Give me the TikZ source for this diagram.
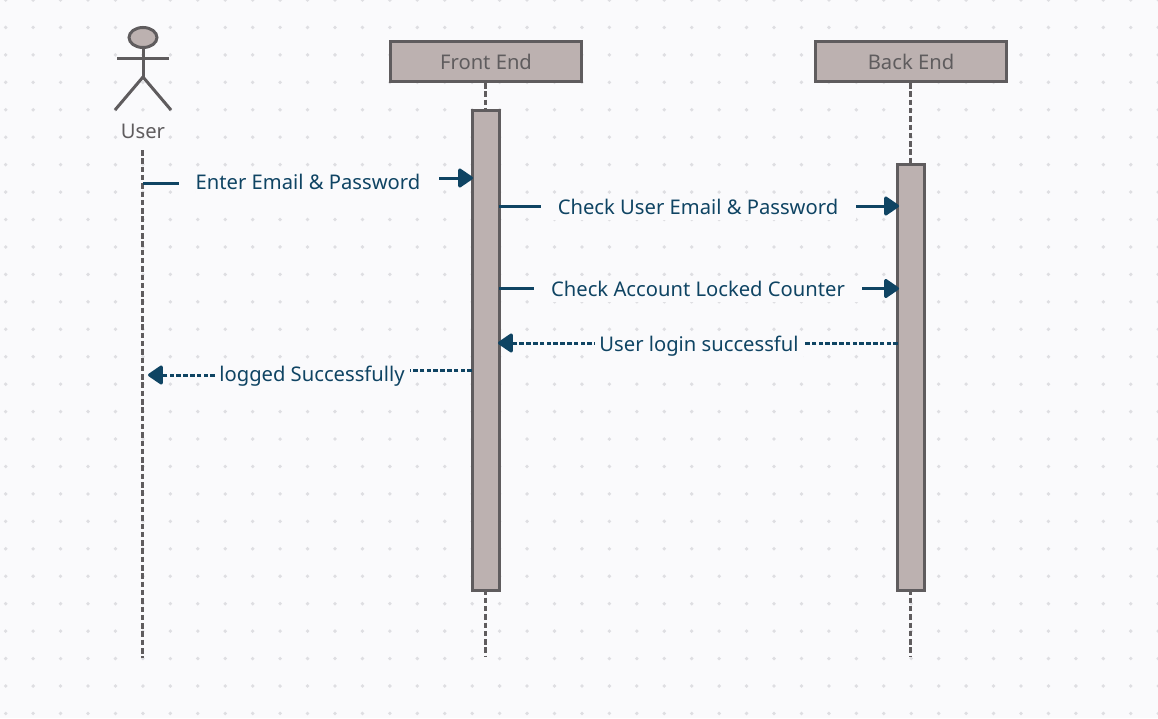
\documentclass[tikz,border=0pt]{standalone}
\usepackage{fontspec}
\setmainfont{Noto Sans}
\usetikzlibrary{arrows.meta,shapes.geometric}
\definecolor{bg}{HTML}{FAFAFC}
\definecolor{dotc}{HTML}{DEDEE2}
\definecolor{boxfill}{HTML}{BCB1B0}
\definecolor{boxline}{HTML}{5F5C5E}
\definecolor{boxtext}{HTML}{5F5C5E}
\definecolor{msg}{HTML}{0F4463}
\tikzset{
  x=1pt,y=-1pt,
  headbox/.style={draw=boxline,fill=boxfill,line width=3.2pt,minimum width=191pt,minimum height=40.5pt,inner sep=0pt,text=boxtext,font=\fontsize{20.2}{24}\selectfont},
  actbox/.style={draw=boxline,fill=boxfill,line width=3pt,minimum width=27pt,inner sep=0pt},
  lifeline/.style={draw=boxline,line width=2.8pt,dash pattern=on 5.5pt off 2.8pt},
  stick/.style={draw=boxline,line width=3pt},
  msgline/.style={draw=msg,line width=3pt,-{Triangle[length=16pt,width=21pt,round]}},
  retline/.style={msgline,dash pattern=on 4.6pt off 2.2pt},
  msglabel/.style={fill=bg,text=msg,font=\fontsize{20.2}{24}\selectfont,inner sep=0pt,minimum height=26pt},
}
\begin{document}
\begin{tikzpicture}
\useasboundingbox (0,0) rectangle (1158,718);
\fill[bg] (0,0) rectangle (1158,718);
\foreach \i in {0,...,42}{\foreach \j in {0,...,26}{
  \fill[dotc] ({5.7+27.44*\i},{27.44*\j}) circle (1.9pt);}}
% lifelines
\coordinate (ufoot) at (142.7,658);
\coordinate (ftop) at (485.7,83);
\coordinate (ffoot) at (485.7,656);
\coordinate (btop) at (910.7,83);
\coordinate (bfoot) at (910.7,656);
\coordinate (utop) at (142.7,150);
\draw[lifeline] (utop) -- (ufoot);
\draw[lifeline] (ftop) -- (ffoot);
\draw[lifeline] (btop) -- (bfoot);
% headers
\node[headbox] (front) at (486,61.5) {\raisebox{-2pt}{Front End}};
\node[headbox] (back) at (911,61.5) {\raisebox{-2pt}{Back End}};
% activations
\node[actbox,minimum height=480pt] (fact) at (486,350) {};
\node[actbox,minimum height=426pt] (bact) at (911,377) {};
% actor
\node[draw=boxline,fill=boxfill,line width=3pt,ellipse,minimum width=28pt,minimum height=20pt,inner sep=0pt] (head) at (143,37.5) {};
\coordinate (hip) at (143,77);
\coordinate (handl) at (117,58);
\coordinate (handr) at (169,58);
\coordinate (footl) at (115,110);
\coordinate (footr) at (171,110);
\draw[stick] (head.south) -- (hip);
\draw[stick] (handl) -- (handr);
\draw[stick] (footl) -- (hip) -- (footr);
\node[text=boxtext,font=\fontsize{20.2}{24}\selectfont,inner sep=0pt] (user) at (143,131) {User};
% messages
\coordinate (m1a) at (143,183);
\coordinate (m1b) at (473,178);
\coordinate (m2a) at (499,206);
\coordinate (m2b) at (899,206);
\coordinate (m3a) at (499,288.5);
\coordinate (m3b) at (899,288.5);
\coordinate (m4a) at (898,343);
\coordinate (m4b) at (498,343);
\coordinate (m5a) at (472,370);
\coordinate (m5b) at (148,375);
\draw[msgline] (m1a) -- (179,183) (439,178) -- (m1b);
\node[msglabel] (l1) at (308,182) {Enter Email \& Password};
\draw[msgline] (m2a) -- (m2b);
\node[msglabel,minimum width=315pt] (l2) at (698,207) {Check User Email \& Password};
\draw[msgline] (m3a) -- (m3b);
\node[msglabel,minimum width=328pt] (l3) at (698,289) {Check Account Locked Counter};
\draw[retline] (m4a) -- (m4b);
\node[msglabel,minimum width=208pt] (l4) at (699,346) {User login successful};
\draw[retline] (m5a) -- (410,370) (215,375) -- (m5b);
\node[msglabel] (l5) at (312,376) {logged Successfully};
\end{tikzpicture}
\end{document}
